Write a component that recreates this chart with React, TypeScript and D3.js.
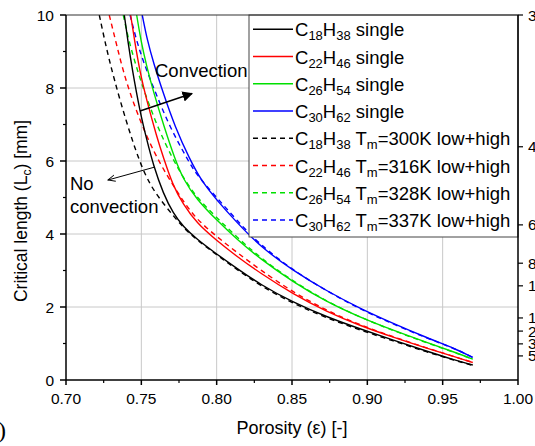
import React from 'react';
import * as d3 from 'd3';

// ---------- data ----------
const xTickValues = [0.7, 0.75, 0.8, 0.85, 0.9, 0.95, 1.0];
const xMinorValues = [0.725, 0.775, 0.825, 0.875, 0.925, 0.975];
const yTickValues = [0, 2, 4, 6, 8, 10];
const yMinorValues = [1, 3, 5, 7, 9];
// secondary (clipped) right axis: tick positions expressed in left-axis units, and visible labels
const rightTickPositions = [10.0, 6.39, 4.25, 3.2, 2.58, 1.7, 1.34, 0.99, 0.66];
const rightTickLabels = ['3', '4', '6', '8', '1', '1', '2', '3', '5'];

const carbonNums = ['18', '22', '26', '30'];
const hydrogenNums = ['38', '46', '54', '62'];
const meltTemps = ['300', '316', '328', '337'];
const seriesColors = ['#000000', '#ff0000', '#00e000', '#0000ff'];

const c18Single: [number, number][] = [
  [0.7387, 10], [0.741, 9.3], [0.744, 8.5], [0.7491, 7.35], [0.7535, 6.6], [0.758, 5.88],
  [0.7646, 5.1], [0.7712, 4.56], [0.7778, 4.2], [0.7867, 3.86], [0.8, 3.45], [0.8133, 3.06],
  [0.8288, 2.62], [0.8509, 2.12], [0.873, 1.73], [0.8951, 1.4], [0.9172, 1.09], [0.9394, 0.79],
  [0.957, 0.56], [0.97, 0.41],
];
const c22Single: [number, number][] = [
  [0.7429, 10], [0.7455, 9.3], [0.749, 8.45], [0.7535, 7.67], [0.7602, 6.67], [0.7646, 6.1],
  [0.7712, 5.3], [0.7778, 4.82], [0.7867, 4.3], [0.8, 3.82], [0.8133, 3.39], [0.8288, 2.93],
  [0.8509, 2.35], [0.873, 1.87], [0.8951, 1.49], [0.9172, 1.17], [0.9394, 0.87], [0.9615, 0.59],
  [0.97, 0.48],
];
const c26Single: [number, number][] = [
  [0.7469, 10], [0.7497, 9.3], [0.7535, 8.6], [0.758, 7.9], [0.765, 6.95], [0.7723, 6.05],
  [0.7778, 5.5], [0.7867, 4.95], [0.8, 4.38], [0.8133, 3.86], [0.8288, 3.32], [0.8509, 2.68],
  [0.873, 2.14], [0.8951, 1.72], [0.9172, 1.36], [0.9394, 1.03], [0.9615, 0.71], [0.97, 0.57],
];
const c30Single: [number, number][] = [
  [0.7506, 10], [0.754, 9.3], [0.758, 8.7], [0.7646, 7.85], [0.7723, 6.94], [0.7823, 6.03],
  [0.79, 5.45], [0.8, 4.93], [0.8133, 4.32], [0.8288, 3.66], [0.8509, 2.99], [0.873, 2.44],
  [0.8951, 1.96], [0.9172, 1.55], [0.9394, 1.16], [0.9593, 0.84], [0.97, 0.62],
];
const c18LowHigh: [number, number][] = [
  [0.7221, 10], [0.7262, 9.2], [0.7315, 8.3], [0.7403, 7.03], [0.749, 5.95], [0.7558, 5.35],
  [0.7624, 4.95], [0.7712, 4.5], [0.7778, 4.18], [0.7867, 3.84], [0.8, 3.43], [0.8133, 3.03],
  [0.8288, 2.59], [0.8509, 2.09], [0.873, 1.7], [0.8951, 1.37], [0.9172, 1.07], [0.9394, 0.77],
  [0.957, 0.55], [0.97, 0.4],
];
const c22LowHigh: [number, number][] = [
  [0.7287, 10], [0.7335, 9.2], [0.738, 8.45], [0.7445, 7.6], [0.7542, 6.6], [0.7628, 5.9],
  [0.7712, 5.33], [0.7778, 4.9], [0.7867, 4.4], [0.8, 3.93], [0.8133, 3.5], [0.8288, 3.02],
  [0.8509, 2.4], [0.873, 1.9], [0.8951, 1.51], [0.9172, 1.18], [0.9394, 0.88], [0.9615, 0.59],
  [0.97, 0.48],
];
const c26LowHigh: [number, number][] = [
  [0.738, 10], [0.7417, 9.3], [0.7465, 8.6], [0.752, 7.9], [0.7605, 6.95], [0.7705, 6.08],
  [0.7778, 5.55], [0.7867, 5.0], [0.8, 4.45], [0.8133, 3.92], [0.8288, 3.35], [0.8509, 2.7],
  [0.873, 2.15], [0.8951, 1.72], [0.9172, 1.35], [0.9394, 1.02], [0.9615, 0.7], [0.97, 0.57],
];
const c30LowHigh: [number, number][] = [
  [0.7425, 10], [0.7468, 9.3], [0.7515, 8.7], [0.7596, 7.85], [0.7688, 6.94], [0.7808, 6.03],
  [0.7867, 5.62], [0.8, 5.0], [0.8133, 4.38], [0.8288, 3.7], [0.8509, 3.0], [0.873, 2.44],
  [0.8951, 1.94], [0.9172, 1.53], [0.9394, 1.15], [0.9593, 0.84], [0.97, 0.62],
];

const singleSeries = [c18Single, c22Single, c26Single, c30Single];
const lowHighSeries = [c18LowHigh, c22LowHigh, c26LowHigh, c30LowHigh];

// ---------- layout ----------
const W = 535;
const H = 446;
const PL = 66, PR = 518, PT = 15, PB = 380;
const FONT = "Arial, 'Liberation Sans', sans-serif";

export default function App() {
  const x = d3.scaleLinear().domain([0.7, 1.0]).range([PL, PR]);
  const y = d3.scaleLinear().domain([0, 10]).range([PB, PT]);
  const line = d3
    .line<[number, number]>()
    .x((d) => x(d[0]))
    .y((d) => y(d[1]))
    .curve(d3.curveBasis);

  const legendX = 249, legendY = PT, legendW = PR - 249, legendH = 222;
  const rowY = (i: number) => 29.3 + i * 27.25;
  const SUB = 13;

  const legendLabel = (i: number, dashed: boolean) => (
    <>
      C<tspan dy={4} fontSize={SUB}>{carbonNums[i]}</tspan>
      <tspan dy={-4}>H</tspan>
      <tspan dy={4} fontSize={SUB}>{hydrogenNums[i]}</tspan>
      {dashed ? (
        <>
          <tspan dy={-4}> T</tspan>
          <tspan dy={4} fontSize={SUB}>m</tspan>
          <tspan dy={-4}>={meltTemps[i]}K low+high</tspan>
        </>
      ) : (
        <tspan dy={-4}> single</tspan>
      )}
    </>
  );

  return (
    <svg
      width={W}
      height={H}
      style={{ position: 'absolute', left: 0, top: 0, background: '#fff' }}
      fontFamily={FONT}
    >
      <defs>
        <clipPath id="plotClip">
          <rect x={PL} y={PT} width={PR - PL} height={PB - PT} />
        </clipPath>
        <marker id="arrFilled" viewBox="0 0 10 10" refX="9" refY="5" markerWidth="7" markerHeight="7" orient="auto" markerUnits="strokeWidth">
          <path d="M0,0 L10,5 L0,10 Z" fill="#000" />
        </marker>
        <marker id="arrOpen" viewBox="0 0 10 10" refX="9" refY="5" markerWidth="8" markerHeight="8" orient="auto" markerUnits="strokeWidth">
          <path d="M0,1 L9,5 L0,9" fill="none" stroke="#000" strokeWidth={1.2} />
        </marker>
      </defs>
      <rect x={0} y={0} width={W} height={H} fill="#fff" />

      {/* grid */}
      {xTickValues.slice(1, -1).map((v) => (
        <line key={'gx' + v} x1={x(v)} x2={x(v)} y1={PT} y2={PB} stroke="#c8c8c8" strokeWidth={1} />
      ))}
      {yTickValues.slice(1, -1).map((v) => (
        <line key={'gy' + v} x1={PL} x2={PR} y1={y(v)} y2={y(v)} stroke="#c8c8c8" strokeWidth={1} />
      ))}

      {/* curves */}
      <g clipPath="url(#plotClip)" fill="none">
        {lowHighSeries.map((s, i) => (
          <path key={'d' + i} d={line(s) || ''} stroke={seriesColors[i]} strokeWidth={1.4} strokeDasharray="5,4" />
        ))}
        {singleSeries.map((s, i) => (
          <path key={'s' + i} d={line(s) || ''} stroke={seriesColors[i]} strokeWidth={1.4} />
        ))}
      </g>

      {/* legend */}
      <rect x={legendX} y={legendY} width={legendW} height={legendH} fill="#fff" stroke="#444" strokeWidth={1} />
      {[0, 1, 2, 3].map((i) => (
        <g key={'ls' + i}>
          <line x1={253} x2={293} y1={rowY(i)} y2={rowY(i)} stroke={seriesColors[i]} strokeWidth={1.4} />
          <text x={295} y={rowY(i) + 7} fontSize={18.5} fill="#000">
            {legendLabel(i, false)}
          </text>
        </g>
      ))}
      {[0, 1, 2, 3].map((i) => (
        <g key={'ld' + i}>
          <line x1={253} x2={293} y1={rowY(i + 4)} y2={rowY(i + 4)} stroke={seriesColors[i]} strokeWidth={1.4} strokeDasharray="5,4" />
          <text x={295} y={rowY(i + 4) + 7} fontSize={18.5} fill="#000">
            {legendLabel(i, true)}
          </text>
        </g>
      ))}

      {/* frame */}
      <line x1={PL} x2={PR} y1={PT} y2={PT} stroke="#333" strokeWidth={1.2} />
      <line x1={PL} x2={PL} y1={PT} y2={PB} stroke="#000" strokeWidth={1.5} />
      <line x1={PL} x2={PR} y1={PB} y2={PB} stroke="#000" strokeWidth={1.5} />
      <line x1={PR} x2={PR} y1={PT} y2={PB} stroke="#000" strokeWidth={1.5} />

      {/* x axis ticks */}
      {xTickValues.map((v) => (
        <g key={'xt' + v}>
          <line x1={x(v)} x2={x(v)} y1={PB} y2={PB + 5} stroke="#000" strokeWidth={1.5} />
          <text x={x(v)} y={404} fontSize={15.5} textAnchor="middle" fill="#000">
            {d3.format('.2f')(v)}
          </text>
        </g>
      ))}
      {xMinorValues.map((v) => (
        <line key={'xm' + v} x1={x(v)} x2={x(v)} y1={PB} y2={PB + 3} stroke="#000" strokeWidth={1.2} />
      ))}

      {/* y axis ticks */}
      {yTickValues.map((v) => (
        <g key={'yt' + v}>
          <line x1={PL - 6} x2={PL} y1={y(v)} y2={y(v)} stroke="#000" strokeWidth={1.5} />
          <text x={54} y={y(v) + 5.5} fontSize={15.5} textAnchor="end" fill="#000">
            {v}
          </text>
        </g>
      ))}
      {yMinorValues.map((v) => (
        <line key={'ym' + v} x1={PL - 3} x2={PL} y1={y(v)} y2={y(v)} stroke="#000" strokeWidth={1.2} />
      ))}

      {/* right (clipped) axis */}
      {rightTickPositions.map((v, i) => (
        <g key={'rt' + i}>
          <line x1={PR} x2={PR + 5} y1={y(v)} y2={y(v)} stroke="#000" strokeWidth={1.2} />
          <text x={528} y={y(v) + 5.5} fontSize={15.5} fill="#000">
            {rightTickLabels[i]}
          </text>
        </g>
      ))}

      {/* axis titles */}
      <text x={292} y={434} fontSize={18} textAnchor="middle" fill="#000">
        Porosity (ε) [-]
      </text>
      <text transform="translate(27,211) rotate(-90)" fontSize={17.5} textAnchor="middle" fill="#000">
        Critical length (L<tspan dy={4} fontSize={12}>c</tspan>
        <tspan dy={-4}>) [mm]</tspan>
      </text>

      {/* annotations */}
      <text x={155} y={77} fontSize={18.5} fill="#000">Convection</text>
      <line x1={140} y1={111} x2={192} y2={93.5} stroke="#000" strokeWidth={1.5} markerEnd="url(#arrFilled)" />
      <text x={70} y={190} fontSize={18.5} fill="#000">No</text>
      <text x={70} y={213} fontSize={18.5} fill="#000">convection</text>
      <line x1={155} y1={167} x2={108} y2={180} stroke="#000" strokeWidth={1} markerEnd="url(#arrOpen)" />

      {/* remnant of panel label */}
      <text x={-2} y={438} fontSize={24} fontFamily="'Liberation Serif', 'DejaVu Serif', serif" fill="#000">)</text>
    </svg>
  );
}
